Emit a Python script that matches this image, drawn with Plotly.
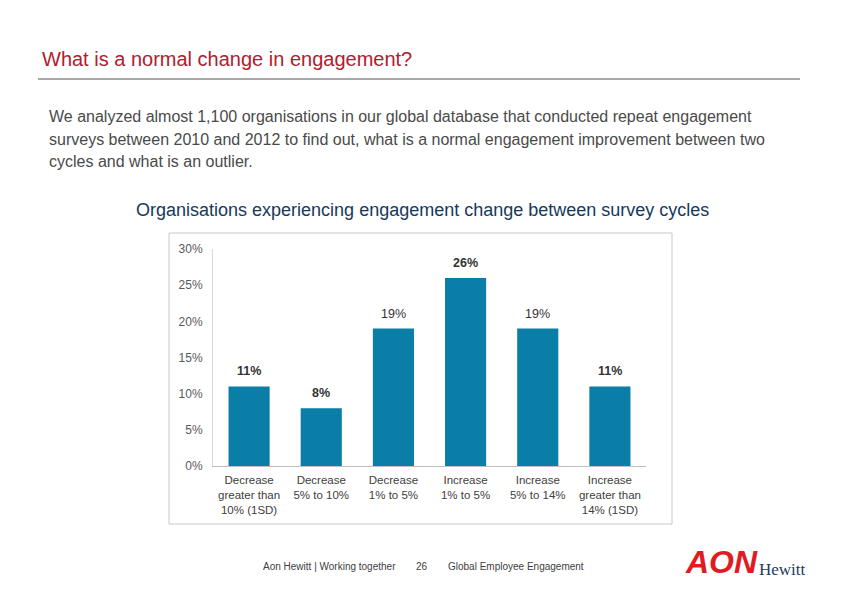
import plotly.graph_objects as go

categories = ["Decrease<br>greater than<br>10% (1SD)", "Decrease<br>5% to 10%", "Decrease<br>1% to 5%",
              "Increase<br>1% to 5%", "Increase<br>5% to 14%", "Increase<br>greater than<br>14% (1SD)"]
values = [11, 8, 19, 26, 19, 11]
y_ticks = [0, 5, 10, 15, 20, 25, 30]
y_tick_labels = ["0%", "5%", "10%", "15%", "20%", "25%", "30%"]
bold_label = [True, True, False, True, False, True]

W, H = 842, 595
def px(x): return x / W
def py(y): return 1 - y / H

labels = [("<b>%d%%</b>" if b else "%d%%") % v for v, b in zip(values, bold_label)]

fig = go.Figure()
fig.add_trace(go.Bar(
    x=categories, y=values, marker=dict(color="#0A7EA6", line=dict(width=0)),
    hoverinfo="skip",
))

fig.update_layout(
    width=W, height=H, margin=dict(l=0, r=0, t=0, b=0, pad=0, autoexpand=False),
    paper_bgcolor="white", plot_bgcolor="white", showlegend=False,
    bargap=0.43,
    font=dict(family="Liberation Sans, Arial"),
    xaxis=dict(domain=[px(213), px(646)], showgrid=False, showline=True, linecolor="#BFBFBF",
               linewidth=1, ticks="", tickfont=dict(size=11.5, color="#404040"), fixedrange=True,
               automargin=False, ticklabelstandoff=3),
    yaxis=dict(domain=[py(466), py(249)], range=[0, 30], tickvals=y_ticks, ticktext=y_tick_labels,
               showgrid=False, zeroline=False, showline=True, linecolor="#D9D9D9", linewidth=1,
               ticks="", tickfont=dict(size=12, color="#595959"), ticklabelstandoff=7, fixedrange=True,
               automargin=False),
)

shapes = [
    dict(type="line", xref="paper", yref="paper", x0=px(38), x1=px(800), y0=py(79), y1=py(79),
         line=dict(color="#555555", width=1)),
    dict(type="rect", xref="paper", yref="paper", x0=px(169), x1=px(672), y0=py(233), y1=py(524),
         line=dict(color="#C8C8C8", width=1)),
]
fig.update_layout(shapes=shapes)

def ann(text, x, y, size, color, xanchor="left", family="Liberation Sans, Arial", yanchor="middle"):
    return dict(text=text, x=px(x), y=py(y), xref="paper", yref="paper", showarrow=False,
                xanchor=xanchor, yanchor=yanchor, align="left",
                font=dict(size=size, color=color, family=family))

annotations = [
    ann("What is a normal change in engagement?", 40, 59, 20, "#B0202E"),
    ann("We analyzed almost 1,100 organisations in our global database that conducted repeat engagement", 47, 117, 16, "#4A4A4A"),
    ann("surveys between 2010 and 2012 to find out, what is a normal engagement improvement between two", 47, 139, 16, "#4A4A4A"),
    ann("cycles and what is an outlier.", 47, 162, 16, "#4A4A4A"),
    ann("Organisations experiencing engagement change between survey cycles", 422, 210, 18, "#16395C", xanchor="center"),
    ann("Aon Hewitt | Working together", 261, 566, 10, "#404040"),
    ann("26", 414, 566, 10, "#404040"),
    ann("Global Employee Engagement", 446, 566, 10, "#404040"),
    ann("<b><i>AON</i></b>", 683, 562, 32, "#E11B22"),
    ann("Hewitt", 757, 569, 17, "#1F3864", family="Liberation Serif, Times New Roman"),
]
for c, v, t in zip(categories, values, labels):
    annotations.append(dict(text=t, x=c, y=v, xref="x", yref="y", showarrow=False,
                            yanchor="middle", yshift=15,
                            font=dict(size=12.5, color="#333333", family="Liberation Sans, Arial")))
fig.update_layout(annotations=annotations)

fig.write_html("out.html", config={"displayModeBar": False},
               post_script="document.body.style.margin='0';document.body.style.padding='0';")
